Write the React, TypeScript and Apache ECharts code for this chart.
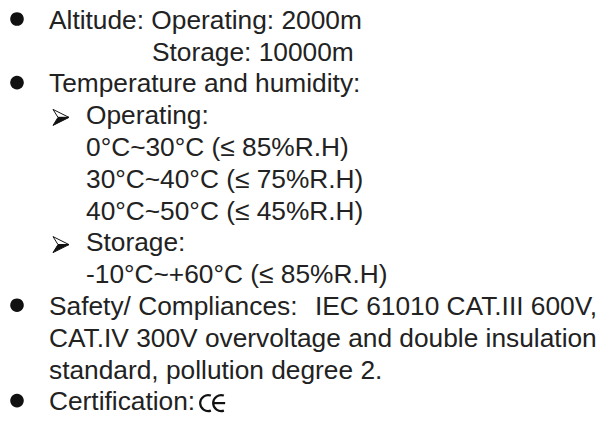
import React, { useEffect, useRef } from "react";
import * as echarts from "echarts";

// Text content of the document, one entry per row
const rowTexts: string[] = [
  "Altitude: Operating: 2000m",
  "Storage: 10000m",
  "Temperature and humidity:",
  "Operating:",
  "0°C~30°C (≤ 85%R.H)",
  "30°C~40°C (≤ 75%R.H)",
  "40°C~50°C (≤ 45%R.H)",
  "Storage:",
  "-10°C~+60°C (≤ 85%R.H)",
  "Safety/ Compliances:",
  "CAT.IV 300V overvoltage and double insulation",
  "standard, pollution degree 2.",
  "Certification:",
];
// marker kind per row: "bullet", "arrow", or "" (continuation)
const rowMarkers: string[] = [
  "bullet", "", "bullet", "arrow", "", "", "", "arrow", "", "bullet", "", "", "bullet",
];
// indentation level per row
const rowLevels: number[] = [0, 3, 0, 1, 1, 1, 1, 1, 1, 0, 0, 0, 0];
// extra text appended on the Safety row
const safetyTail = "IEC 61010 CAT.III 600V,";

export default function App() {
  const ref = useRef<HTMLDivElement>(null);
  useEffect(() => {
    if (!ref.current) return;
    const chart = echarts.init(ref.current, null, { renderer: "svg" });
    const font = "Liberation Sans, Arial, sans-serif";
    const fontSize = 26.3;
    const color = "#222";
    const baseY = 31;
    const step = 31.8;
    const topOffset = 24.3;
    const indentX = [49, 86, 86, 152];
    const cvs = document.createElement("canvas");
    const ctx = cvs.getContext("2d")!;
    ctx.font = `${fontSize}px ${font}`;
    const elements: any[] = [];
    const textEl = (t: string, x: number, baseline: number) => ({
      type: "text",
      x,
      y: baseline - topOffset,
      style: {
        text: t,
        fontFamily: font,
        fontSize,
        fill: color,
        verticalAlign: "top",
      },
    });
    rowTexts.forEach((t, i) => {
      const baseline = baseY + i * step;
      const x = indentX[rowLevels[i]];
      elements.push(textEl(t, x, baseline));
      if (rowMarkers[i] === "bullet") {
        elements.push({
          type: "circle",
          shape: { cx: 17, cy: baseline - 12, r: 6.8 },
          style: { fill: "#111" },
        });
      } else if (rowMarkers[i] === "arrow") {
        const ax = 53, ay = baseline - 9;
        elements.push({
          type: "polygon",
          shape: { points: [[ax, ay - 8], [ax + 16, ay], [ax + 5, ay]] },
          style: { fill: "#fff", stroke: "#111", lineWidth: 1 },
        });
        elements.push({
          type: "polygon",
          shape: { points: [[ax + 5, ay], [ax + 16, ay], [ax, ay + 8]] },
          style: { fill: "#111", stroke: "#111", lineWidth: 1 },
        });
      }
      if (i === 9) {
        elements.push(textEl(safetyTail, 315, baseline));
      }
      if (i === 12) {
        const x0 = x + ctx.measureText(t).width + 5;
        const cy = baseline - 9.5;
        const r = 8;
        const d = 0.35;
        const cxC = x0 + r;
        const cxE = x0 + r + 13;
        elements.push({
          type: "arc",
          shape: { cx: cxC, cy, r, startAngle: Math.PI * 0.5 - d, endAngle: Math.PI * 1.5 + d, clockwise: true },
          style: { stroke: "#111", lineWidth: 2.2, fill: "none" },
        });
        elements.push({
          type: "arc",
          shape: { cx: cxE, cy, r, startAngle: Math.PI * 0.5 - d, endAngle: Math.PI * 1.5 + d, clockwise: true },
          style: { stroke: "#111", lineWidth: 2.2, fill: "none" },
        });
        elements.push({
          type: "line",
          shape: { x1: cxE - r, y1: cy, x2: cxE + r * 0.5, y2: cy },
          style: { stroke: "#111", lineWidth: 2.2 },
        });
      }
    });
    chart.setOption({
      animation: false,
      backgroundColor: "#fff",
      graphic: { elements },
    });
    return () => chart.dispose();
  }, []);
  return (
    <div
      ref={ref}
      style={{ position: "fixed", left: 0, top: 0, width: 606, height: 427 }}
    />
  );
}
